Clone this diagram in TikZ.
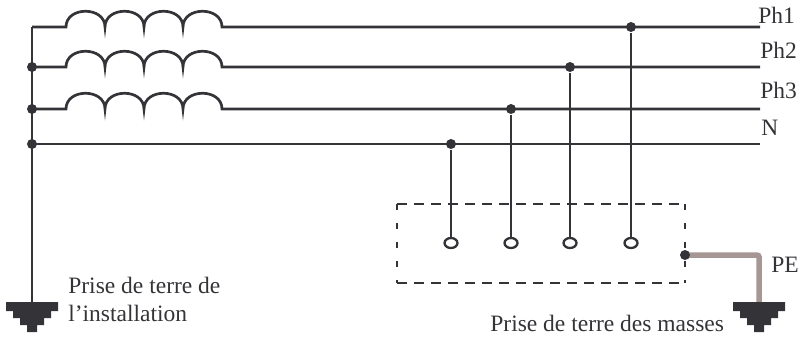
\documentclass[tikz,border=0pt]{standalone}
\usepackage{fontspec}
\setmainfont{Liberation Serif}
\usetikzlibrary{shapes.geometric,calc,positioning}
\definecolor{wire}{RGB}{52,52,56}
\definecolor{peline}{RGB}{166,150,148}

\begin{document}
\begin{tikzpicture}[x=1pt, y=-1pt, line width=2.7pt, color=wire,
    every node/.style={font=\fontsize{23.5}{28}\selectfont, inner sep=0pt},
    dot/.style={circle, fill=wire, minimum size=10pt},
    terminal/.style={ellipse, draw=wire, line width=2.3pt, minimum width=13pt, minimum height=10pt},
    boxline/.style={line width=2.2pt, dash pattern=on 10pt off 7pt},
    boxside/.style={line width=2.2pt, dash pattern=on 6pt off 13pt},
    earth/.pic={\fill (-26,0) rectangle (26,9) (-19,9) rectangle (19,16) (-12,16) rectangle (12,23) (-5,23) rectangle (5,30);}]
\useasboundingbox (0,0) rectangle (799,338);

% source side
\coordinate (g1) at (32,302);
\coordinate (s4) at (32,144);
\coordinate (e4) at (760,144);
\draw (g1) -- (32,27);
\foreach \n/\y in {1/27,2/67,3/109}{
  \coordinate (s\n) at (32,\y);
  \coordinate (e\n) at (760,\y);
  \draw (s\n) -- (66,\y) \foreach \k in {1,...,4}{ .. controls +(0,-21) and +(0,-21) .. ++(39,0)} -- (e\n);
}
\draw (s4) -- (e4);
\foreach \n in {2,3,4} \node[dot] (d\n) at (s\n) {};

\node[anchor=base west] (ph1) at (757,23) {Ph1};
\node[anchor=base west] (ph2) at (759,58) {Ph2};
\node[anchor=base west] (ph3) at (759,98) {Ph3};
\node[anchor=base west] (neutre) at (760,135) {N};

% taps to the equipment
\foreach \n/\x/\y in {4/451/144, 3/511/109, 2/570/67, 1/631/27}{
  \node[dot] (t\n) at (\x,\y) {};
  \node[terminal] (b\n) at (\x,243) {};
  \draw (t\n) -- (b\n);
}

% dashed frame
\draw[boxline] (397,204) -- (685,204) (397,283) -- (685,283);
\draw[boxside] (397,204) -- (397,283) (685,204) -- (685,283);

% PE
\coordinate (pe) at (685,255);
\coordinate (g2) at (759,302);
\draw[peline, line width=5.5pt, rounded corners=2pt] (pe) -| (g2);
\node[dot] (pedot) at (pe) {};
\node[anchor=base west] (pelabel) at (770,272) {PE};

% earths
\pic at (g1) {earth};
\pic at (g2) {earth};
\node[anchor=base west, align=left] (inst) at (67,321) {Prise de terre de\\l’installation};
\node[anchor=base west] (masses) at (489,331) {Prise de terre des masses};
\end{tikzpicture}
\end{document}
